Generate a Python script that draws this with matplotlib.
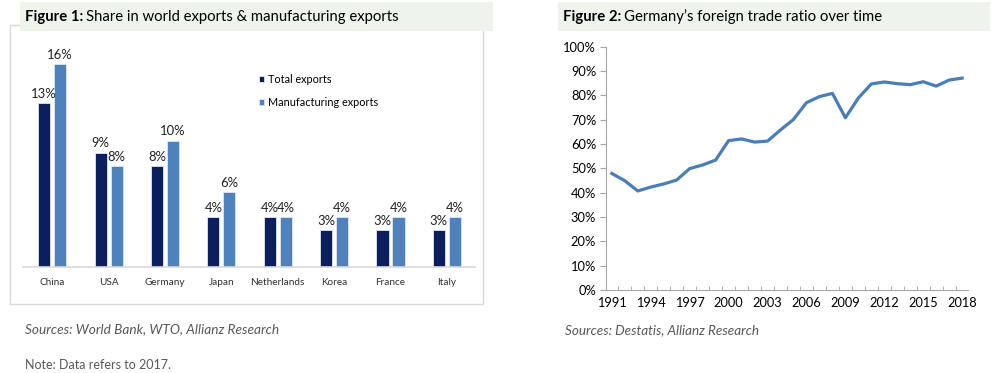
import matplotlib.pyplot as plt
import numpy as np
from matplotlib.patches import Rectangle

plt.rcParams['font.family'] = ['Lato', 'DejaVu Sans']

# Figure 1 data (share in %, 2017)
countries = ['China', 'USA', 'Germany', 'Japan', 'Netherlands', 'Korea', 'France', 'Italy']
total_exports = [12.9, 9.0, 7.95, 3.96, 3.96, 2.9, 2.9, 2.9]
manuf_exports = [16.0, 7.95, 9.95, 5.9, 3.96, 3.96, 3.96, 3.96]

# Figure 2 data (foreign trade ratio in %)
years = list(range(1991, 2019))
trade_ratio = [47.9, 44.9, 40.7, 42.3, 43.6, 45.2, 49.9, 51.4, 53.4, 61.4,
               62.1, 60.8, 61.2, 65.8, 70.1, 77.0, 79.5, 80.8, 70.8, 78.9,
               84.7, 85.5, 84.8, 84.4, 85.6, 83.8, 86.3, 87.1]

W, H = 1003, 373
DARK = '#0b1f5e'
LIGHT = '#4f81bd'
BAND = '#eef4ec'
GREY_TXT = '#595959'


def px(x0, y0, x1, y1):
    """pixel box (top-left origin) -> figure fraction rect"""
    return [x0 / W, 1 - y1 / H, (x1 - x0) / W, (y1 - y0) / H]


def title(fig, x, y, bold, rest, size=10.7):
    r = fig.canvas.get_renderer()
    t = fig.text(x / W, 1 - y / H, bold, fontsize=size, fontweight='bold', va='center', ha='left')
    bb = t.get_window_extent(renderer=r)
    fig.text(bb.x1 / fig.dpi / fig.get_figwidth() + 3 / W, 1 - y / H, rest,
             fontsize=size, va='center', ha='left')


fig = plt.figure(figsize=(W / 100, H / 100), dpi=100)

# title bands and chart box
fig.patches.append(Rectangle((10 / W, 1 - 304 / H), 473 / W, 279 / H, transform=fig.transFigure,
                             facecolor='white', edgecolor='#d9d9d9', linewidth=1, zorder=0))
fig.patches.append(Rectangle((20 / W, 1 - 31 / H), 473 / W, 29 / H, transform=fig.transFigure,
                             facecolor=BAND, edgecolor='none', zorder=1))
fig.patches.append(Rectangle((558 / W, 1 - 31 / H), 432 / W, 29 / H, transform=fig.transFigure,
                             facecolor=BAND, edgecolor='none', zorder=1))
title(fig, 25, 17, 'Figure 1:', 'Share in world exports & manufacturing exports')
title(fig, 563, 17, 'Figure 2:', 'Germany\u2019s foreign trade ratio over time')

# ---- Figure 1: grouped bars
ax1 = fig.add_axes(px(23, 51, 475, 267))
ax1.set_zorder(3)
x = np.arange(len(countries))
w = 0.215
off = 0.142
b1 = ax1.bar(x - off, total_exports, w, color=DARK, edgecolor='#dde6f2', linewidth=0.6,
             label='Total exports')
b2 = ax1.bar(x + off, manuf_exports, w, color=LIGHT, edgecolor='#dde6f2', linewidth=0.6,
             label='Manufacturing exports')
for bars, vals in ((b1, total_exports), (b2, manuf_exports)):
    for b, v in zip(bars, vals):
        ax1.text(b.get_x() + b.get_width() / 2, v + 0.25, f'{v:.0f}%', ha='center', va='bottom',
                 fontsize=9.4, color='#222222')
ax1.set_xlim(-0.52, 7.5)
ax1.set_ylim(0, 17)
ax1.set_yticks([])
ax1.set_xticks(x)
ax1.set_xticklabels(countries, fontsize=7.2, color='#333333')
ax1.tick_params(axis='x', length=0, pad=8)
for s in ('top', 'right', 'left'):
    ax1.spines[s].set_visible(False)
ax1.spines['bottom'].set_color('#d9d9d9')
ax1.spines['bottom'].set_linewidth(1.2)
ax1.patch.set_alpha(0)
ax1.legend(loc='upper left', bbox_to_anchor=(0.5, 0.94), frameon=False, fontsize=7.8,
           handlelength=0.5, handleheight=0.5, handletextpad=0.4, labelspacing=1.1)

# ---- Figure 2: line
ax2 = fig.add_axes(px(606, 46.7, 968, 290))
ax2.set_zorder(3)
ax2.plot(years, trade_ratio, color='#4a7ebb', linewidth=2.3, solid_joinstyle='round')
ax2.set_xlim(1990.55, 2018.45)
ax2.set_ylim(0, 100)
ax2.set_yticks(np.arange(0, 101, 10))
ax2.set_yticklabels([f'{v}%' for v in range(0, 101, 10)], fontsize=9.3)
ax2.set_xticks(years[::3])
ax2.set_xticklabels([str(y) for y in years[::3]], fontsize=9.2)
ax2.set_xticks(np.arange(1991.5, 2018.5, 1), minor=True)
ax2.tick_params(axis='x', which='major', length=0, pad=5)
ax2.tick_params(axis='x', which='minor', direction='in', length=3, color='#a6a6a6')
ax2.tick_params(axis='y', length=4, color='#a6a6a6', pad=3)
for s in ('top', 'right'):
    ax2.spines[s].set_visible(False)
for s in ('left', 'bottom'):
    ax2.spines[s].set_color('#a6a6a6')

# sources and notes
fig.text(25 / W, 1 - 329 / H, 'Sources: World Bank, WTO, Allianz Research', fontsize=9.8,
         style='italic', color=GREY_TXT, va='center')
fig.text(25 / W, 1 - 365 / H, 'Note: Data refers to 2017.', fontsize=9, color=GREY_TXT,
         va='center')
fig.text(565 / W, 1 - 330 / H, 'Sources: Destatis, Allianz Research', fontsize=9.7,
         style='italic', color=GREY_TXT, va='center')

fig.savefig('out.png', dpi=100)
